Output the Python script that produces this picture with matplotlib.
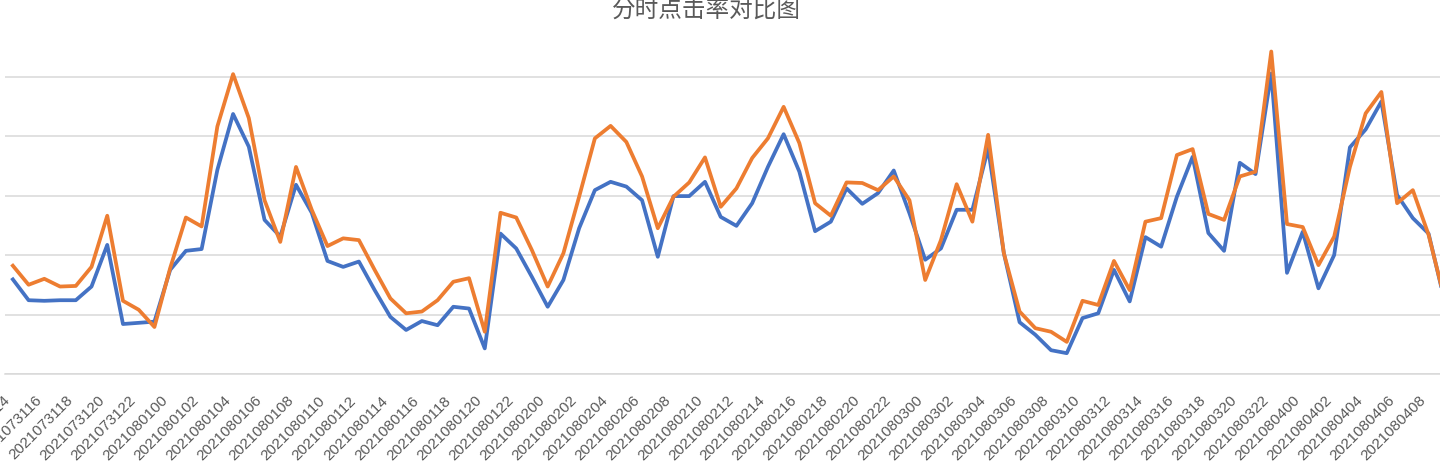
import pandas as pd
import matplotlib.pyplot as plt

plt.rcParams['font.family'] = ['Noto Sans CJK SC', 'DejaVu Sans']

# 时间点 (每小时一个点)
hours = pd.date_range('2021-07-31 14:00', periods=92, freq='h').strftime('%Y%m%d%H').tolist()

# 两条点击率曲线 (单位: 每条网格线 = 1)
ctr_a = [1.59, 1.24, 1.23, 1.24, 1.24, 1.47, 2.17, 0.84, 0.86, 0.88,
         1.75, 2.07, 2.10, 3.43, 4.37, 3.82, 2.59, 2.31, 3.18, 2.71,
         1.90, 1.80, 1.89, 1.41, 0.96, 0.74, 0.89, 0.82, 1.13, 1.10,
         0.43, 2.36, 2.11, 1.63, 1.13, 1.58, 2.45, 3.09, 3.23, 3.15,
         2.92, 1.97, 2.99, 2.99, 3.23, 2.64, 2.49, 2.87, 3.48, 4.03,
         3.40, 2.40, 2.56, 3.12, 2.86, 3.04, 3.42, 2.70, 1.92, 2.11,
         2.76, 2.76, 3.79, 2.03, 0.87, 0.66, 0.40, 0.35, 0.94, 1.02,
         1.75, 1.22, 2.30, 2.14, 2.98, 3.65, 2.37, 2.07, 3.55, 3.36,
         5.05, 1.70, 2.39, 1.44, 2.00, 3.81, 4.11, 4.58, 3.01, 2.62,
         2.36, 1.25]
ctr_b = [1.82, 1.50, 1.60, 1.47, 1.48, 1.80, 2.66, 1.23, 1.08, 0.79,
         1.78, 2.63, 2.48, 4.16, 5.04, 4.30, 2.92, 2.22, 3.48, 2.76,
         2.15, 2.28, 2.25, 1.75, 1.27, 1.02, 1.05, 1.24, 1.55, 1.61,
         0.71, 2.71, 2.63, 2.08, 1.47, 2.03, 2.98, 3.96, 4.17, 3.90,
         3.32, 2.45, 2.98, 3.22, 3.64, 2.81, 3.12, 3.63, 3.96, 4.49,
         3.88, 2.87, 2.66, 3.22, 3.21, 3.09, 3.32, 2.92, 1.58, 2.25,
         3.19, 2.56, 4.02, 2.03, 1.05, 0.77, 0.71, 0.54, 1.23, 1.16,
         1.90, 1.41, 2.56, 2.62, 3.68, 3.78, 2.69, 2.59, 3.32, 3.40,
         5.42, 2.52, 2.47, 1.83, 2.31, 3.48, 4.38, 4.74, 2.87, 3.09,
         2.34, 1.28]
series_names = ['对照组', '实验组']

fig = plt.figure(figsize=(14.4, 4.72), dpi=100)
ax = fig.add_axes([5 / 1440, 98 / 472, 92 * 15.73 / 1440, 344 / 472])

x = range(len(hours))
ax.plot(x, ctr_a, color='#4472C4', lw=2.7, label=series_names[0])
ax.plot(x, ctr_b, color='#ED7D31', lw=2.7, label=series_names[1])

ax.set_xlim(-0.5, len(hours) - 0.5)
ax.set_ylim(0, 344 / 59.5)
ax.set_yticks(range(0, 6))
ax.yaxis.grid(True, color='#d9d9d9', lw=1.1)
ax.set_axisbelow(True)
ax.tick_params(axis='y', left=False, labelleft=False)
for s in ['top', 'left', 'right']:
    ax.spines[s].set_visible(False)
ax.spines['bottom'].set_color('#d9d9d9')
ax.spines['bottom'].set_linewidth(1.1)

# 每隔两小时一个标签
ax.set_xticks(list(x)[::2])
ax.set_xticklabels(hours[::2], rotation=45, ha='right', fontsize=11,
                   color='#595959', family=['Liberation Sans', 'DejaVu Sans'])
ax.tick_params(axis='x', length=0, pad=14)

fig.text(706 / 1440, 1 - 10 / 472, '分时点击率对比图', ha='center', va='center',
         fontsize=17, color='#595959')

fig.legend(loc='upper left', bbox_to_anchor=(622 / 1440, 1 - 466 / 472), ncol=2,
           frameon=False, fontsize=10.8, handlelength=1.5, handletextpad=0.5,
           columnspacing=1.7, borderpad=0, labelcolor='#595959')

fig.savefig('out.png', dpi=100)
